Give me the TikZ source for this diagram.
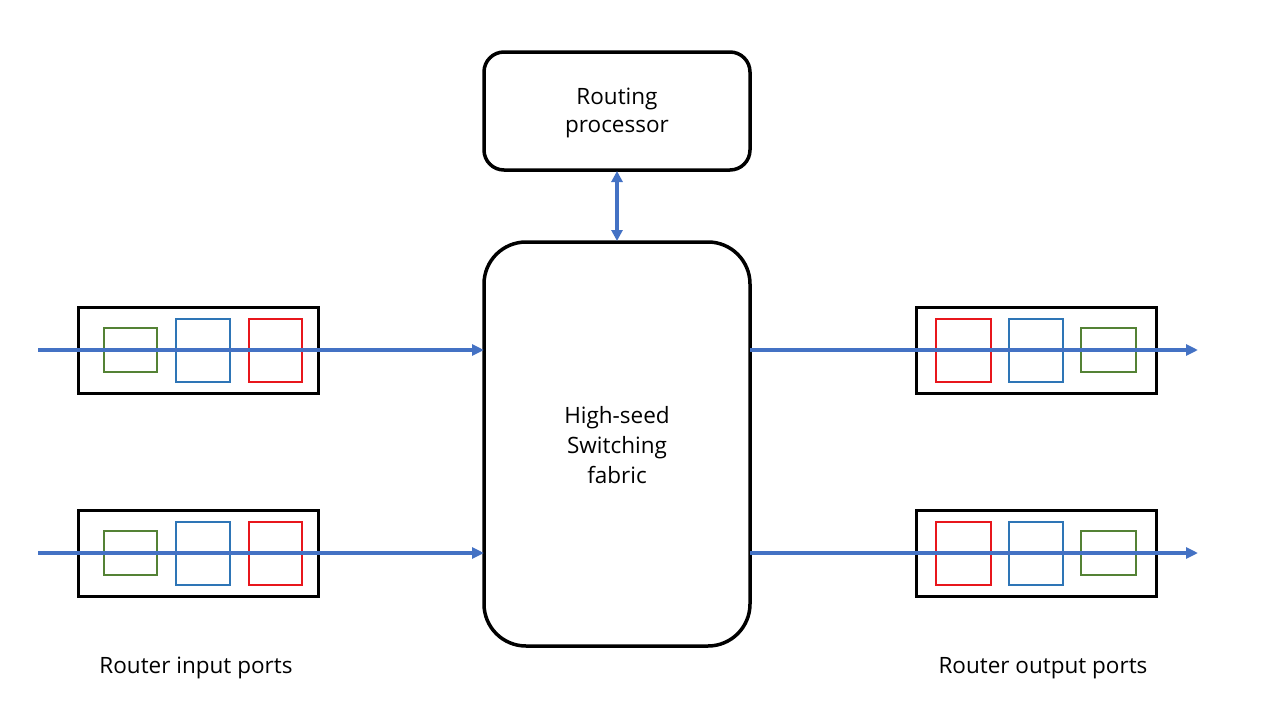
\documentclass[tikz,border=0pt]{standalone}
\usepackage{fontspec}
\setmainfont{Open Sans}
\usetikzlibrary{arrows.meta}
\definecolor{arrblue}{HTML}{4472C4}
\definecolor{qgreen}{HTML}{548235}
\definecolor{qblue}{HTML}{2E75B6}
\definecolor{qred}{HTML}{E8161C}
\tikzset{
  rbox/.style={draw=black,line width=3.5pt,rounded corners=#1},
  portbox/.style={draw=black,line width=3pt},
  qsq/.style={draw=#1,line width=2pt},
  flow/.style={draw=arrblue,line width=3.5pt,-{Triangle[length=12pt,width=11pt]}},
  lbl/.style={font=\fontsize{22.5pt}{28pt}\selectfont,align=center,inner sep=0pt}
}
\begin{document}
\begin{tikzpicture}[x=1pt,y=-1pt]
\useasboundingbox (0,0) rectangle (1280,720);
% routing processor
\draw[rbox=20pt] (484,52) rectangle (750,170);
\node[lbl] (rp) at (617,113) {Routing\\processor};
\coordinate (rpS) at (617,171);
% fabric
\draw[rbox=42pt] (484,242) rectangle (750,646);
\node[lbl,font=\fontsize{22.5pt}{30pt}\selectfont] (sf) at (617,445) {High-seed\\Switching\\fabric};
\coordinate (sfN) at (617,241);
\draw[draw=arrblue,line width=3.5pt,{Triangle[length=11pt,width=11pt]}-{Triangle[length=11pt,width=11pt]}] (rpS) -- (sfN);
% input ports
\foreach \y/\n in {350/a,553/b}{
  \node[portbox,minimum width=240pt,minimum height=86pt,inner sep=0pt] (in\n) at (198,\y) {};
  \draw[qsq=qgreen] (104,\y-22) rectangle (157,\y+22);
  \draw[qsq=qblue] (176,\y-31) rectangle (230,\y+32);
  \draw[qsq=qred] (249,\y-31) rectangle (302,\y+32);
  \coordinate (s\n) at (38,\y);
  \coordinate (fi\n) at (484,\y);
  \draw[flow] (s\n) -- (fi\n);
}
% output ports
\foreach \y/\n in {350/a,553/b}{
  \node[portbox,minimum width=240pt,minimum height=86pt,inner sep=0pt] (out\n) at (1036,\y) {};
  \draw[qsq=qred] (936,\y-31) rectangle (991,\y+32);
  \draw[qsq=qblue] (1009,\y-31) rectangle (1063,\y+32);
  \draw[qsq=qgreen] (1081,\y-22) rectangle (1136,\y+22);
  \coordinate (fo\n) at (750,\y);
  \coordinate (e\n) at (1198,\y);
  \draw[flow] (fo\n) -- (e\n);
}
\node[lbl] (inl) at (196,668) {Router input ports};
\node[lbl] (outl) at (1043,668) {Router output ports};
\end{tikzpicture}
\end{document}
